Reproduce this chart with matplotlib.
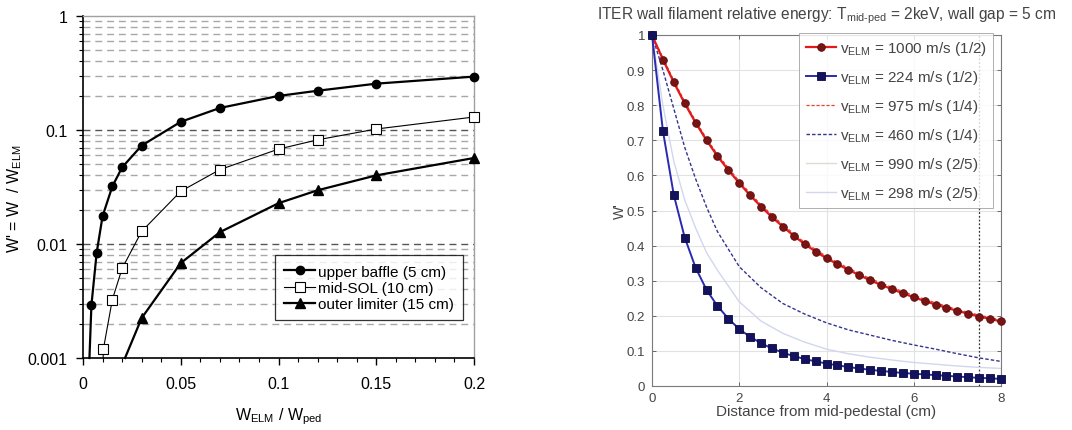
import matplotlib
matplotlib.use("Agg")
import matplotlib.pyplot as plt
from matplotlib.ticker import FixedLocator, NullFormatter, MultipleLocator

plt.rcParams['font.family'] = ['Liberation Sans', 'DejaVu Sans']
plt.rcParams['mathtext.fontset'] = 'custom'
plt.rcParams['mathtext.rm'] = 'Liberation Sans'
plt.rcParams['mathtext.it'] = 'Liberation Sans:italic'

# ---------------- Left panel data ----------------
ub_x = [0.0033, 0.0043, 0.007, 0.010, 0.015, 0.020, 0.030, 0.050, 0.070, 0.100, 0.120, 0.150, 0.200]
ub_y = [0.001, 0.0029, 0.0084, 0.0175, 0.032, 0.047, 0.073, 0.118, 0.156, 0.199, 0.221, 0.255, 0.294]
ms_x = [0.0103, 0.0104, 0.015, 0.020, 0.030, 0.050, 0.070, 0.100, 0.120, 0.150, 0.200]
ms_y = [0.001, 0.00119, 0.00325, 0.0061, 0.0129, 0.029, 0.0449, 0.068, 0.082, 0.102, 0.130]
ol_x = [0.0215, 0.030, 0.050, 0.070, 0.100, 0.120, 0.150, 0.200]
ol_y = [0.001, 0.00224, 0.0068, 0.0127, 0.0228, 0.0296, 0.040, 0.0568]
left_labels = ['upper baffle (5 cm)', 'mid-SOL (10 cm)', 'outer limiter (15 cm)']
left_xticks = [0, 0.05, 0.1, 0.15, 0.2]
left_xticklabels = ['0', '0.05', '0.1', '0.15', '0.2']
left_yticks = [0.001, 0.01, 0.1, 1]
left_yticklabels = ['0.001', '0.01', '0.1', '1']

# ---------------- Right panel data ----------------
d_mark = [i * 0.25 for i in range(33)]
red_1000 = [1.0, 0.93, 0.865, 0.805, 0.75, 0.70, 0.655, 0.615, 0.578, 0.543, 0.511, 0.481,
            0.454, 0.428, 0.404, 0.383, 0.364, 0.347, 0.331, 0.316, 0.301, 0.288, 0.276,
            0.264, 0.253, 0.242, 0.232, 0.223, 0.214, 0.206, 0.198, 0.191, 0.184]
navy_224 = [1.0, 0.727, 0.544, 0.423, 0.337, 0.274, 0.228, 0.192, 0.162, 0.140, 0.122, 0.107,
            0.095, 0.085, 0.077, 0.070, 0.064, 0.059, 0.054, 0.050, 0.046, 0.043, 0.040,
            0.037, 0.035, 0.033, 0.031, 0.029, 0.027, 0.025, 0.023, 0.022, 0.020]
d_line = [0, 0.25, 0.5, 0.75, 1, 1.25, 1.5, 2, 2.5, 3, 3.5, 4, 4.5, 5, 5.5, 6, 6.5, 7, 7.5, 8]
red_975 = [1.0, 0.935, 0.87, 0.81, 0.755, 0.705, 0.66, 0.583, 0.516, 0.459, 0.409, 0.369,
           0.336, 0.306, 0.281, 0.258, 0.237, 0.218, 0.202, 0.188]
blue_460 = [1.0, 0.90, 0.79, 0.68, 0.59, 0.51, 0.44, 0.34, 0.28, 0.235, 0.205, 0.18, 0.16,
            0.145, 0.13, 0.117, 0.105, 0.092, 0.08, 0.07]
gray_990 = [1.0, 0.932, 0.868, 0.808, 0.752, 0.702, 0.657, 0.58, 0.513, 0.456, 0.406, 0.366,
            0.333, 0.303, 0.278, 0.255, 0.234, 0.215, 0.199, 0.186]
lblue_298 = [1.0, 0.80, 0.64, 0.53, 0.45, 0.38, 0.33, 0.24, 0.185, 0.15, 0.125, 0.105, 0.092,
             0.082, 0.074, 0.067, 0.062, 0.057, 0.053, 0.05]
right_labels = [r'$\mathregular{v_{ELM}}$ = 1000 m/s (1/2)', r'$\mathregular{v_{ELM}}$ = 224 m/s (1/2)',
                r'$\mathregular{v_{ELM}}$ = 975 m/s (1/4)', r'$\mathregular{v_{ELM}}$ = 460 m/s (1/4)',
                r'$\mathregular{v_{ELM}}$ = 990 m/s (2/5)', r'$\mathregular{v_{ELM}}$ = 298 m/s (2/5)']
wall_x = 7.5

fig = plt.figure(figsize=(10.72, 4.31), dpi=100)

# ================= Left panel =================
ax1 = fig.add_axes([83 / 1072, 1 - 359 / 431, 391 / 1072, 342 / 431])
ax1.set_yscale('log')
ax1.set_xlim(0, 0.2)
ax1.set_ylim(0.001, 1)

minor_y = [m * 10.0 ** e for e in (-3, -2, -1) for m in range(2, 10)]
for v in minor_y:
    ax1.axhline(v, color='#a8a8a8', lw=1.0, dashes=(5, 3.5), zorder=0)
for v in [0.01, 0.1]:
    ax1.axhline(v, color='#555555', lw=1.0, dashes=(5, 3.5), zorder=0)

ax1.plot(ub_x, ub_y, '-', color='black', lw=1.6, marker='o', ms=6, markevery=slice(1, None),
         mfc='black', mec='black', label=left_labels[0], clip_on=False, zorder=3)
ax1.plot(ms_x, ms_y, '-', color='black', lw=0.8, marker='s', ms=6.5, markevery=slice(1, None),
         mfc='white', mec='black', mew=0.8, label=left_labels[1], clip_on=False, zorder=3)
ax1.plot(ol_x, ol_y, '-', color='black', lw=1.6, marker='^', ms=6.5, markevery=slice(1, None),
         mfc='black', mec='black', label=left_labels[2], clip_on=False, zorder=3)

ax1.xaxis.set_major_locator(FixedLocator(left_xticks))
ax1.set_xticklabels(left_xticklabels)
ax1.xaxis.set_minor_locator(MultipleLocator(0.01))
ax1.yaxis.set_major_locator(FixedLocator(left_yticks))
ax1.set_yticklabels(left_yticklabels)
ax1.yaxis.set_minor_locator(FixedLocator(minor_y))
ax1.yaxis.set_minor_formatter(NullFormatter())
ax1.tick_params(axis='both', which='major', direction='out', length=5, width=1, labelsize=11.5,
                colors='black')
ax1.tick_params(axis='x', which='major', pad=8)
ax1.tick_params(axis='y', which='major', pad=6)
ax1.tick_params(axis='both', which='minor', direction='out', length=3, width=0.8)
for s in ['left', 'bottom']:
    ax1.spines[s].set_color('black')
    ax1.spines[s].set_linewidth(1.2)
for s in ['top', 'right']:
    ax1.spines[s].set_color('#a0a0a0')
    ax1.spines[s].set_linewidth(1.0)

ax1.set_xlabel(r'$\mathregular{W_{ELM}}$ / $\mathregular{W_{ped}}$', fontsize=11.5, labelpad=10)
ax1.set_ylabel(r"W' = W  / $\mathregular{W_{ELM}}$", fontsize=11.5)
ax1.yaxis.set_label_coords(-0.15, 0.47)

leg1 = ax1.legend(loc='lower right', bbox_to_anchor=(0.972, 0.11), borderaxespad=0,
                  fontsize=11, frameon=True, fancybox=False, edgecolor='black',
                  handlelength=2.0, handletextpad=0.2, labelspacing=0.15, borderpad=0.6)
leg1.get_frame().set_linewidth(0.9)

# ================= Right panel =================
ax2 = fig.add_axes([652 / 1072, 1 - 387 / 431, 349 / 1072, 351 / 431])
ax2.set_xlim(0, 8)
ax2.set_ylim(0, 1)
ax2.grid(True, color='#e2e2e2', lw=0.8, ls='-')
ax2.set_axisbelow(True)

ax2.plot(d_line, gray_990, '-', color='#dcdccc', lw=1.0, label=right_labels[4], zorder=2)
ax2.plot(d_line, lblue_298, '-', color='#d2d6ee', lw=1.0, label=right_labels[5], zorder=2)
ax2.plot(d_line, blue_460, '--', color='#34348e', lw=1.0, dashes=(2.5, 1.5), label=right_labels[3], zorder=2)
ax2.plot(d_mark, red_1000, '-', color='#e3191c', lw=1.6, marker='o', ms=5.5,
         mfc='#7a1414', mec='#5a0c0c', mew=0.6, label=right_labels[0], clip_on=False, zorder=4)
ax2.plot(d_line, red_975, '--', color='#e84030', lw=0.9, dashes=(2.5, 1.5), label=right_labels[2], zorder=3)
ax2.plot(d_mark, navy_224, '-', color='#2a2ab0', lw=1.4, marker='s', ms=5.5,
         mfc='#12125e', mec='#0a0a40', mew=0.6, label=right_labels[1], clip_on=False, zorder=4)
ax2.axvline(wall_x, color='#333333', lw=0.9, dashes=(1.5, 1.5), zorder=1)

ax2.set_xticks([0, 2, 4, 6, 8])
ax2.set_xticklabels(['0', '2', '4', '6', '8'])
ax2.set_yticks([i / 10 for i in range(11)])
ax2.set_yticklabels(['0', '0.1', '0.2', '0.3', '0.4', '0.5', '0.6', '0.7', '0.8', '0.9', '1'])
ax2.tick_params(axis='both', direction='in', length=3, width=0.6, colors='#555555',
                labelcolor='#444444', labelsize=9.5, top=True, right=True)
ax2.tick_params(axis='x', pad=4)
ax2.tick_params(axis='y', pad=5)
for s in ax2.spines.values():
    s.set_color('#7a7a7a')
    s.set_linewidth(0.8)

ax2.set_xlabel('Distance from mid-pedestal (cm)', fontsize=11, color='#444444', labelpad=0)
ax2.set_ylabel("W'", fontsize=10, color='#444444', labelpad=0)
ax2.set_title(r'ITER wall filament relative energy: $\mathregular{T_{mid\text{-}ped}}$ = 2keV, wall gap = 5 cm',
              fontsize=11.2, color='#444444', pad=12)

h, l = ax2.get_legend_handles_labels()
hmap = dict(zip(l, h))
leg2 = ax2.legend([hmap[x] for x in right_labels], right_labels, loc='upper right',
                  bbox_to_anchor=(0.977, 1.005), borderaxespad=0, fontsize=11,
                  frameon=True, fancybox=False, edgecolor='#9a9a9a', labelcolor='#444444',
                  handlelength=2.0, handletextpad=0.25, labelspacing=0.72, borderpad=0.4)
leg2.get_frame().set_linewidth(0.7)

fig.savefig('out.png', dpi=100)
